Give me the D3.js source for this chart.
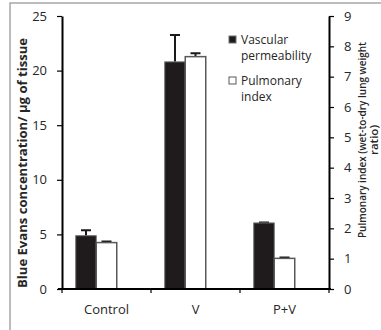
<!DOCTYPE html>
<html>
<head>
<meta charset="utf-8">
<script src="https://cdn.jsdelivr.net/npm/d3@7"></script>
<style>
  body { margin: 0; background: #fff; }
  text { font-family: "Open Sans", "Liberation Sans", sans-serif; fill: #262626; }
</style>
</head>
<body>
<div id="chart"></div>
<script>
var width = 381,
    height = 330;

// data
var categories = ["Control", "V", "P+V"];
var permeability = [4.88, 20.8, 6.05];      // left axis
var permeabilityErr = [0.5, 2.45, 0.05];
var pulmonaryIndex = [1.53, 7.66, 1.01];     // right axis
var pulmonaryIndexErr = [0.04, 0.11, 0.03];
var leftTicks = [0, 5, 10, 15, 20, 25];
var rightTicks = [0, 1, 2, 3, 4, 5, 6, 7, 8, 9];

var plot = { left: 62, right: 329, top: 16, bottom: 289 };

var svg = d3.select("#chart").append("svg")
    .attr("width", width)
    .attr("height", height);

// outer frame (only top and left edge visible)
svg.append("path")
    .attr("d", "M10," + height + "V3H" + width)
    .attr("fill", "none")
    .attr("stroke", "#a6a6a6")
    .attr("stroke-width", 1.5);

var x = d3.scaleBand().domain(categories).range([plot.left, plot.right]);
// third slot is the empty placeholder series
var xs = d3.scaleBand().domain(["perm", "index", "blank"])
    .range([0, x.bandwidth()]).paddingOuter(0.67);
var yL = d3.scaleLinear().domain([0, 25]).range([plot.bottom, plot.top]);
var yR = d3.scaleLinear().domain([0, 9]).range([plot.bottom, plot.top]);

var rows = categories.map(function(c, i) {
  return { cat: c, perm: permeability[i], permErr: permeabilityErr[i],
           idx: pulmonaryIndex[i], idxErr: pulmonaryIndexErr[i] };
});

// error bars (drawn first so bars cover the lower half)
var capW = 10;
function errBar(sel, key, val, err, scale) {
  sel.append("g").selectAll("path").data(rows).enter().append("path")
    .attr("d", function(d) {
      var cx = x(d.cat) + xs(key) + xs.bandwidth() / 2;
      var y0 = scale(d[val]), y1 = scale(d[val] + d[err]);
      return "M" + cx + "," + y0 + "V" + y1 + "M" + (cx - capW / 2) + "," + y1 + "H" + (cx + capW / 2);
    })
    .attr("fill", "none")
    .attr("stroke", "#1a1a1a")
    .attr("stroke-width", 2);
}
errBar(svg, "perm", "perm", "permErr", yL);
errBar(svg, "index", "idx", "idxErr", yR);

svg.append("g").selectAll("rect").data(rows).enter().append("rect")
    .attr("x", function(d) { return x(d.cat) + xs("perm"); })
    .attr("y", function(d) { return yL(d.perm); })
    .attr("width", xs.bandwidth())
    .attr("height", function(d) { return yL(0) - yL(d.perm); })
    .attr("fill", "#1f1b1c")
    .attr("stroke", "#6e6e6e")
    .attr("stroke-width", 1);

svg.append("g").selectAll("rect").data(rows).enter().append("rect")
    .attr("x", function(d) { return x(d.cat) + xs("index"); })
    .attr("y", function(d) { return yR(d.idx); })
    .attr("width", xs.bandwidth())
    .attr("height", function(d) { return yR(0) - yR(d.idx); })
    .attr("fill", "#fff")
    .attr("stroke", "#595959")
    .attr("stroke-width", 1.5);

// axes
function styleAxis(g) {
  g.select(".domain").attr("stroke", "#000").attr("stroke-width", 2);
  g.selectAll(".tick line").attr("stroke", "#000").attr("stroke-width", 1.2);
  g.selectAll(".tick text").style("font-size", "13px").attr("fill", "#404040");
}

svg.append("g")
    .attr("transform", "translate(" + plot.left + ",0)")
    .call(d3.axisLeft(yL).tickValues(leftTicks).tickSize(5).tickSizeOuter(0).tickPadding(10))
    .call(styleAxis);

svg.append("g")
    .attr("transform", "translate(" + plot.right + ",0)")
    .call(d3.axisRight(yR).tickValues(rightTicks).tickSize(5).tickSizeOuter(0).tickPadding(10))
    .call(styleAxis);

var xAxis = svg.append("g")
    .attr("transform", "translate(0," + plot.bottom + ")")
    .call(d3.axisBottom(x).tickSize(0).tickPadding(16))
    .call(styleAxis);
xAxis.select(".domain").attr("d", "M" + (plot.left - 4) + ",0H" + (plot.right + 2));
// category boundary ticks
xAxis.selectAll("line.bound")
    .data(categories.map(function(c) { return x(c); }).concat([plot.right]))
    .enter().append("line")
    .attr("class", "bound")
    .attr("x1", function(d) { return d; }).attr("x2", function(d) { return d; })
    .attr("y1", 0).attr("y2", 4)
    .attr("stroke", "#000").attr("stroke-width", 1.2);

// axis titles
svg.append("text")
    .attr("transform", "translate(27,163) rotate(-90)")
    .attr("text-anchor", "middle")
    .style("font-size", "13px")
    .style("font-weight", "bold")
    .attr("textLength", 250)
    .attr("lengthAdjust", "spacingAndGlyphs")
    .text("Blue Evans concentration/ µg of tissue");

var rt = svg.append("text")
    .attr("transform", "translate(366,140) rotate(-90)")
    .attr("text-anchor", "middle")
    .style("font-size", "11.5px")
    .style("font-weight", "600");
rt.append("tspan").attr("x", 0).attr("dy", 0)
    .attr("textLength", 196).attr("lengthAdjust", "spacingAndGlyphs")
    .text("Pulmonary index (wet-to-dry lung weight");
rt.append("tspan").attr("x", 0).attr("dy", 11.5).text("ratio)");

// legend
var legendItems = [
  { fill: "#1f1b1c", stroke: "#6e6e6e", lines: ["Vascular", "permeability"] },
  { fill: "#fff", stroke: "#595959", lines: ["Pulmonary", "index"] }
];
var lg = svg.append("g").selectAll("g").data(legendItems).enter().append("g")
    .attr("transform", function(d, i) { return "translate(229," + (36 + i * 41) + ")"; });
lg.append("rect")
    .attr("width", 7).attr("height", 7)
    .attr("fill", function(d) { return d.fill; })
    .attr("stroke", function(d) { return d.stroke; });
lg.each(function(d) {
  var t = d3.select(this).append("text")
      .attr("x", 12).attr("y", 8)
      .style("font-size", "12px")
      .attr("fill", "#404040");
  d.lines.forEach(function(l, j) {
    t.append("tspan").attr("x", 12).attr("dy", j ? 16 : 0).text(l);
  });
});
</script>
</body>
</html>
